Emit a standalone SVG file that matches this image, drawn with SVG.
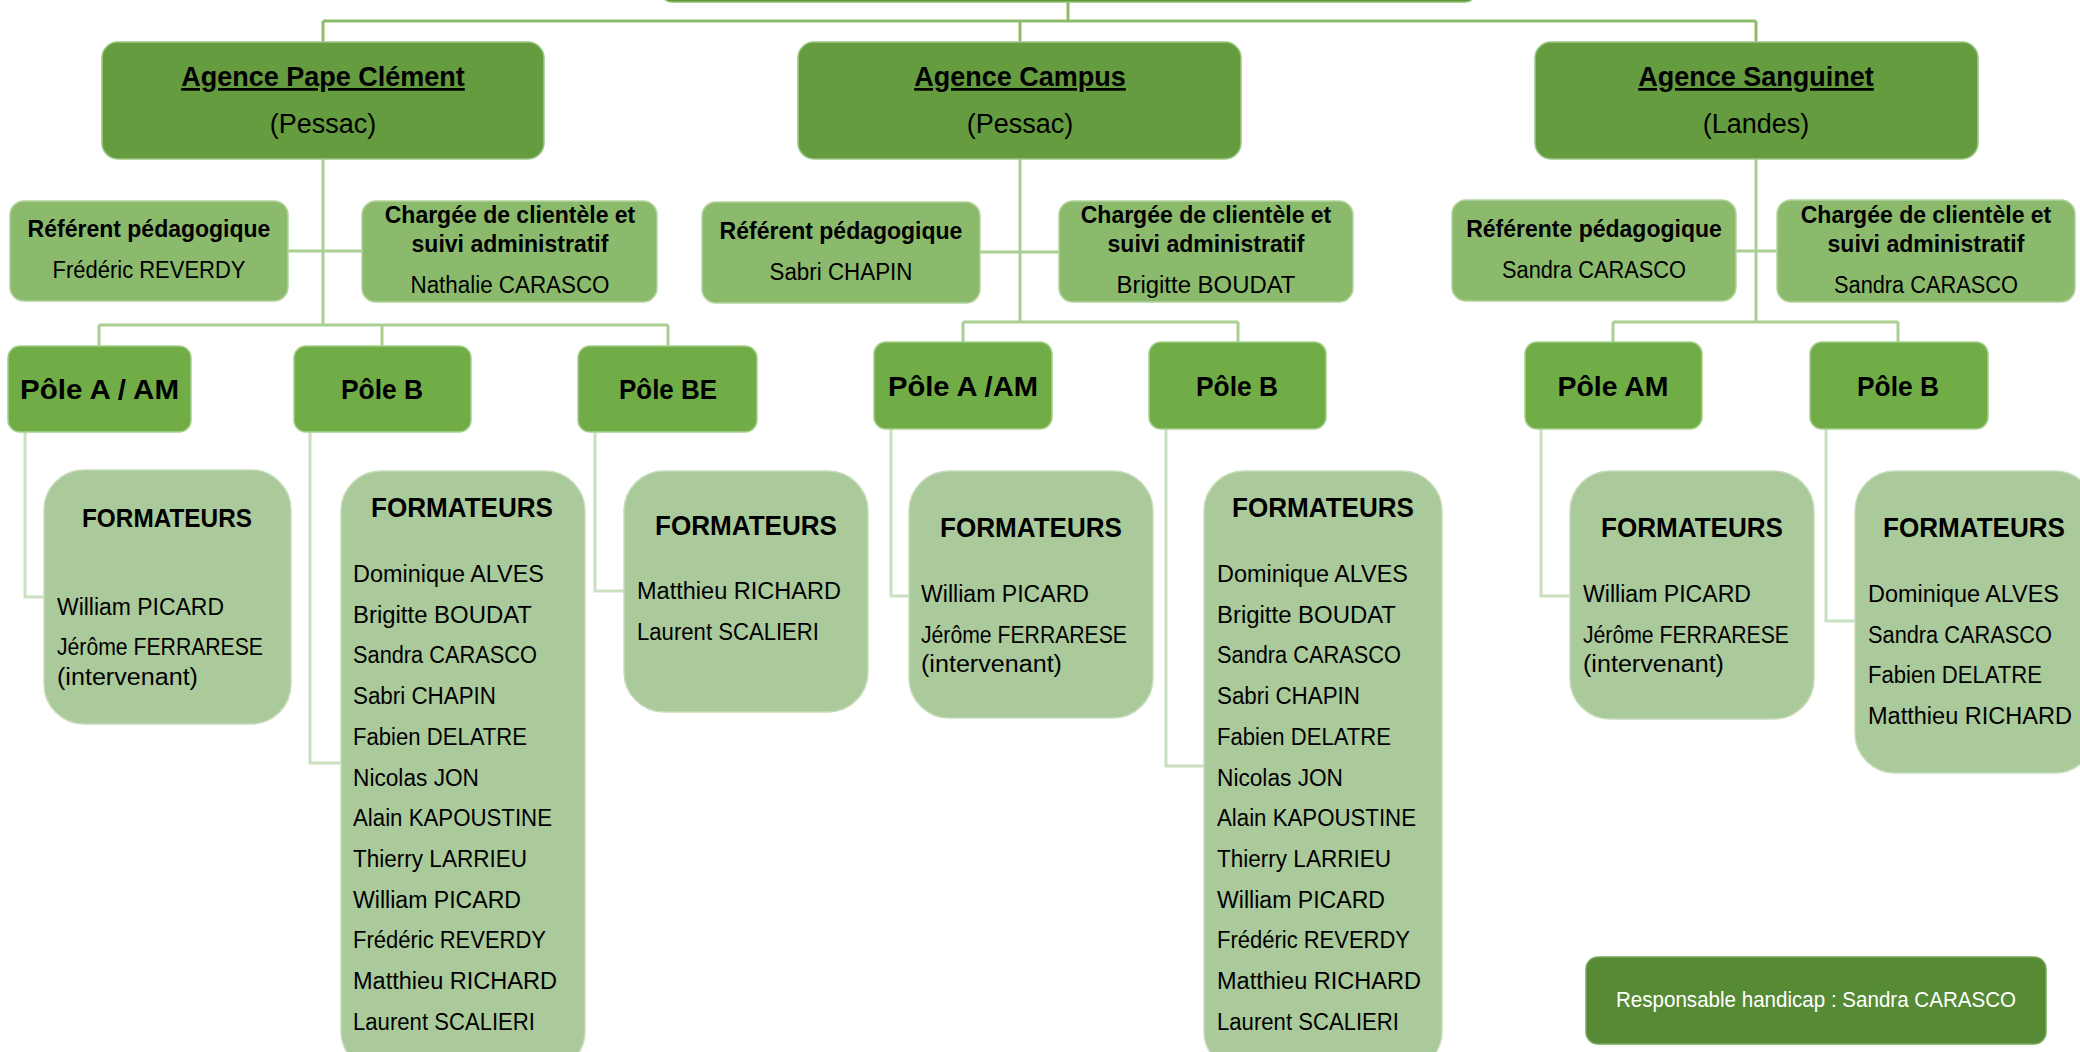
<svg xmlns="http://www.w3.org/2000/svg" width="2080" height="1052" viewBox="0 0 2080 1052">
<style>
text{font-family:"Liberation Sans",Arial,sans-serif;fill:#000}
.b{font-weight:bold}
.m{text-anchor:middle}
.agence{fill:#649c3f;stroke:#9cc783;stroke-width:1.5}
.root{fill:#5e9639;stroke:#8fbf70;stroke-width:1.5}
.pole{fill:#70ad47;stroke:#a6cf8c;stroke-width:1.5}
.ref{fill:#8bba6d;stroke:#b3d49d;stroke-width:1.5}
.form{fill:#abca9b;stroke:#c6dcba;stroke-width:1.5}
.resp{fill:#568a35;stroke:#7aa95c;stroke-width:1.5}
.t1{font-size:27px;font-weight:bold;text-decoration:underline}
.t2{font-size:27px}
.rt{font-size:23px;font-weight:bold}
.rn{font-size:23.3px}
.pt{font-size:28px;font-weight:bold}
.ft{font-size:27px;font-weight:bold}
.fn{font-size:23.3px}
.c1{fill:none;stroke:#8dbb6c;stroke-width:3}
.c2{fill:none;stroke:#a9cf92;stroke-width:3}
.c3{fill:none;stroke:#cbe0bf;stroke-width:3}
</style>
<rect width="2080" height="1052" fill="#ffffff"/>
<g id="connectors">
<path class="c1" d="M1068 2V21M323 21H1756M323 21V42M1020 21V42M1756 21V42"/>
<path class="c2" d="M323 159V325M288 251H362M99 325H668M99 325V346M382 325V346M668 325V346"/>
<path class="c2" d="M1020 159V322M980 252H1059M963 322H1238M963 322V342M1238 322V342"/>
<path class="c2" d="M1756 159V322M1736 251H1777M1613 322H1898M1613 322V342M1898 322V342"/>
<path class="c3" d="M25 432V597H44M310 432V763H341M595 432V591H624M891 429V596H909M1166 429V766H1204M1541 429V596H1570M1826 429V621H1855"/>
</g>
<g id="root"><rect class="root" x="660" y="-60" width="817" height="62" rx="12"/></g>
<g id="agence-pape">
<rect class="agence" x="102" y="42" width="442" height="117" rx="16"/>
<text class="t1 m" x="323" y="86">Agence Pape Clément</text>
<text class="t2 m" x="323" y="133">(Pessac)</text>
</g>
<g id="agence-campus">
<rect class="agence" x="798" y="42" width="443" height="117" rx="16"/>
<text class="t1 m" x="1020" y="86">Agence Campus</text>
<text class="t2 m" x="1020" y="133">(Pessac)</text>
</g>
<g id="agence-sanguinet">
<rect class="agence" x="1535" y="42" width="443" height="117" rx="16"/>
<text class="t1 m" x="1756" y="86">Agence Sanguinet</text>
<text class="t2 m" x="1756" y="133">(Landes)</text>
</g>
<g id="ref-pape">
<rect class="ref" x="10" y="201" width="278" height="100" rx="14"/>
<text class="rt m" x="149" y="237">Référent pédagogique</text>
<text class="rn m" x="149" y="278" textLength="193" lengthAdjust="spacingAndGlyphs">Frédéric REVERDY</text>
</g>
<g id="charge-pape">
<rect class="ref" x="362" y="201" width="295" height="101" rx="14"/>
<text class="rt m" x="510" y="223">Chargée de clientèle et</text>
<text class="rt m" x="510" y="252">suivi administratif</text>
<text class="rn m" x="510" y="293" textLength="199" lengthAdjust="spacingAndGlyphs">Nathalie CARASCO</text>
</g>
<g id="ref-campus">
<rect class="ref" x="702" y="202" width="278" height="101" rx="14"/>
<text class="rt m" x="841" y="239">Référent pédagogique</text>
<text class="rn m" x="841" y="280" textLength="143" lengthAdjust="spacingAndGlyphs">Sabri CHAPIN</text>
</g>
<g id="charge-campus">
<rect class="ref" x="1059" y="201" width="294" height="101" rx="14"/>
<text class="rt m" x="1206" y="223">Chargée de clientèle et</text>
<text class="rt m" x="1206" y="252">suivi administratif</text>
<text class="rn m" x="1206" y="293" textLength="179" lengthAdjust="spacingAndGlyphs">Brigitte BOUDAT</text>
</g>
<g id="ref-sanguinet">
<rect class="ref" x="1452" y="200" width="284" height="101" rx="14"/>
<text class="rt m" x="1594" y="237">Référente pédagogique</text>
<text class="rn m" x="1594" y="278" textLength="184" lengthAdjust="spacingAndGlyphs">Sandra CARASCO</text>
</g>
<g id="charge-sanguinet">
<rect class="ref" x="1777" y="200" width="298" height="102" rx="14"/>
<text class="rt m" x="1926" y="223">Chargée de clientèle et</text>
<text class="rt m" x="1926" y="252">suivi administratif</text>
<text class="rn m" x="1926" y="293" textLength="184" lengthAdjust="spacingAndGlyphs">Sandra CARASCO</text>
</g>
<g id="pole-pape-a">
<rect class="pole" x="8" y="346" width="183" height="86" rx="12"/>
<text class="pt m" x="99.5" y="399" textLength="159" lengthAdjust="spacingAndGlyphs">Pôle A / AM</text>
</g>
<g id="pole-pape-b">
<rect class="pole" x="294" y="346" width="177" height="86" rx="12"/>
<text class="pt m" x="382" y="399" textLength="82" lengthAdjust="spacingAndGlyphs">Pôle B</text>
</g>
<g id="pole-pape-be">
<rect class="pole" x="578" y="346" width="179" height="86" rx="12"/>
<text class="pt m" x="668" y="399" textLength="98" lengthAdjust="spacingAndGlyphs">Pôle BE</text>
</g>
<g id="pole-campus-a">
<rect class="pole" x="874" y="342" width="178" height="87" rx="12"/>
<text class="pt m" x="963" y="396" textLength="150" lengthAdjust="spacingAndGlyphs">Pôle A /AM</text>
</g>
<g id="pole-campus-b">
<rect class="pole" x="1149" y="342" width="177" height="87" rx="12"/>
<text class="pt m" x="1237" y="396" textLength="82" lengthAdjust="spacingAndGlyphs">Pôle B</text>
</g>
<g id="pole-sanguinet-am">
<rect class="pole" x="1525" y="342" width="177" height="87" rx="12"/>
<text class="pt m" x="1613" y="396" textLength="111" lengthAdjust="spacingAndGlyphs">Pôle AM</text>
</g>
<g id="pole-sanguinet-b">
<rect class="pole" x="1810" y="342" width="178" height="87" rx="12"/>
<text class="pt m" x="1898" y="396" textLength="82" lengthAdjust="spacingAndGlyphs">Pôle B</text>
</g>
<g id="form-pape-a">
<rect class="form" x="44" y="470" width="247" height="254" rx="40"/>
<text class="b m" style="font-size:25px" x="167" y="527" textLength="170" lengthAdjust="spacingAndGlyphs">FORMATEURS</text>
<text class="fn" x="57" y="615" textLength="167" lengthAdjust="spacingAndGlyphs">William PICARD</text>
<text class="fn" x="57" y="655" textLength="206" lengthAdjust="spacingAndGlyphs">Jérôme FERRARESE</text>
<text class="fn" x="57" y="685" textLength="141" lengthAdjust="spacingAndGlyphs">(intervenant)</text>
</g>
<g id="form-pape-b">
<rect class="form" x="341" y="471" width="244" height="600" rx="40"/>
<text class="ft m" x="462" y="517" textLength="182" lengthAdjust="spacingAndGlyphs">FORMATEURS</text>
<text class="fn" x="353" y="582" textLength="191" lengthAdjust="spacingAndGlyphs">Dominique ALVES</text>
<text class="fn" x="353" y="623" textLength="179" lengthAdjust="spacingAndGlyphs">Brigitte BOUDAT</text>
<text class="fn" x="353" y="663" textLength="184" lengthAdjust="spacingAndGlyphs">Sandra CARASCO</text>
<text class="fn" x="353" y="704" textLength="143" lengthAdjust="spacingAndGlyphs">Sabri CHAPIN</text>
<text class="fn" x="353" y="745" textLength="174" lengthAdjust="spacingAndGlyphs">Fabien DELATRE</text>
<text class="fn" x="353" y="786" textLength="126" lengthAdjust="spacingAndGlyphs">Nicolas JON</text>
<text class="fn" x="353" y="826" textLength="199" lengthAdjust="spacingAndGlyphs">Alain KAPOUSTINE</text>
<text class="fn" x="353" y="867" textLength="174" lengthAdjust="spacingAndGlyphs">Thierry LARRIEU</text>
<text class="fn" x="353" y="908" textLength="168" lengthAdjust="spacingAndGlyphs">William PICARD</text>
<text class="fn" x="353" y="948" textLength="193" lengthAdjust="spacingAndGlyphs">Frédéric REVERDY</text>
<text class="fn" x="353" y="989" textLength="204" lengthAdjust="spacingAndGlyphs">Matthieu RICHARD</text>
<text class="fn" x="353" y="1030" textLength="182" lengthAdjust="spacingAndGlyphs">Laurent SCALIERI</text>
</g>
<g id="form-pape-be">
<rect class="form" x="624" y="471" width="244" height="241" rx="40"/>
<text class="ft m" x="746" y="535" textLength="182" lengthAdjust="spacingAndGlyphs">FORMATEURS</text>
<text class="fn" x="637" y="599" textLength="204" lengthAdjust="spacingAndGlyphs">Matthieu RICHARD</text>
<text class="fn" x="637" y="640" textLength="182" lengthAdjust="spacingAndGlyphs">Laurent SCALIERI</text>
</g>
<g id="form-campus-a">
<rect class="form" x="909" y="471" width="244" height="247" rx="40"/>
<text class="ft m" x="1031" y="537" textLength="182" lengthAdjust="spacingAndGlyphs">FORMATEURS</text>
<text class="fn" x="921" y="602" textLength="168" lengthAdjust="spacingAndGlyphs">William PICARD</text>
<text class="fn" x="921" y="643" textLength="206" lengthAdjust="spacingAndGlyphs">Jérôme FERRARESE</text>
<text class="fn" x="921" y="672" textLength="141" lengthAdjust="spacingAndGlyphs">(intervenant)</text>
</g>
<g id="form-campus-b">
<rect class="form" x="1204" y="471" width="238" height="600" rx="40"/>
<text class="ft m" x="1323" y="517" textLength="182" lengthAdjust="spacingAndGlyphs">FORMATEURS</text>
<text class="fn" x="1217" y="582" textLength="191" lengthAdjust="spacingAndGlyphs">Dominique ALVES</text>
<text class="fn" x="1217" y="623" textLength="179" lengthAdjust="spacingAndGlyphs">Brigitte BOUDAT</text>
<text class="fn" x="1217" y="663" textLength="184" lengthAdjust="spacingAndGlyphs">Sandra CARASCO</text>
<text class="fn" x="1217" y="704" textLength="143" lengthAdjust="spacingAndGlyphs">Sabri CHAPIN</text>
<text class="fn" x="1217" y="745" textLength="174" lengthAdjust="spacingAndGlyphs">Fabien DELATRE</text>
<text class="fn" x="1217" y="786" textLength="126" lengthAdjust="spacingAndGlyphs">Nicolas JON</text>
<text class="fn" x="1217" y="826" textLength="199" lengthAdjust="spacingAndGlyphs">Alain KAPOUSTINE</text>
<text class="fn" x="1217" y="867" textLength="174" lengthAdjust="spacingAndGlyphs">Thierry LARRIEU</text>
<text class="fn" x="1217" y="908" textLength="168" lengthAdjust="spacingAndGlyphs">William PICARD</text>
<text class="fn" x="1217" y="948" textLength="193" lengthAdjust="spacingAndGlyphs">Frédéric REVERDY</text>
<text class="fn" x="1217" y="989" textLength="204" lengthAdjust="spacingAndGlyphs">Matthieu RICHARD</text>
<text class="fn" x="1217" y="1030" textLength="182" lengthAdjust="spacingAndGlyphs">Laurent SCALIERI</text>
</g>
<g id="form-sanguinet-am">
<rect class="form" x="1570" y="471" width="244" height="248" rx="40"/>
<text class="ft m" x="1692" y="537" textLength="182" lengthAdjust="spacingAndGlyphs">FORMATEURS</text>
<text class="fn" x="1583" y="602" textLength="168" lengthAdjust="spacingAndGlyphs">William PICARD</text>
<text class="fn" x="1583" y="643" textLength="206" lengthAdjust="spacingAndGlyphs">Jérôme FERRARESE</text>
<text class="fn" x="1583" y="672" textLength="141" lengthAdjust="spacingAndGlyphs">(intervenant)</text>
</g>
<g id="form-sanguinet-b">
<rect class="form" x="1855" y="471" width="240" height="302" rx="40"/>
<text class="ft m" x="1974" y="537" textLength="182" lengthAdjust="spacingAndGlyphs">FORMATEURS</text>
<text class="fn" x="1868" y="602" textLength="191" lengthAdjust="spacingAndGlyphs">Dominique ALVES</text>
<text class="fn" x="1868" y="643" textLength="184" lengthAdjust="spacingAndGlyphs">Sandra CARASCO</text>
<text class="fn" x="1868" y="683" textLength="174" lengthAdjust="spacingAndGlyphs">Fabien DELATRE</text>
<text class="fn" x="1868" y="724" textLength="204" lengthAdjust="spacingAndGlyphs">Matthieu RICHARD</text>
</g>
<g id="responsable-handicap">
<rect class="resp" x="1586" y="957" width="460" height="87" rx="12"/>
<text class="m" style="font-size:22px;fill:#ffffff" x="1816" y="1007" textLength="400" lengthAdjust="spacingAndGlyphs">Responsable handicap : Sandra CARASCO</text>
</g>
</svg>
